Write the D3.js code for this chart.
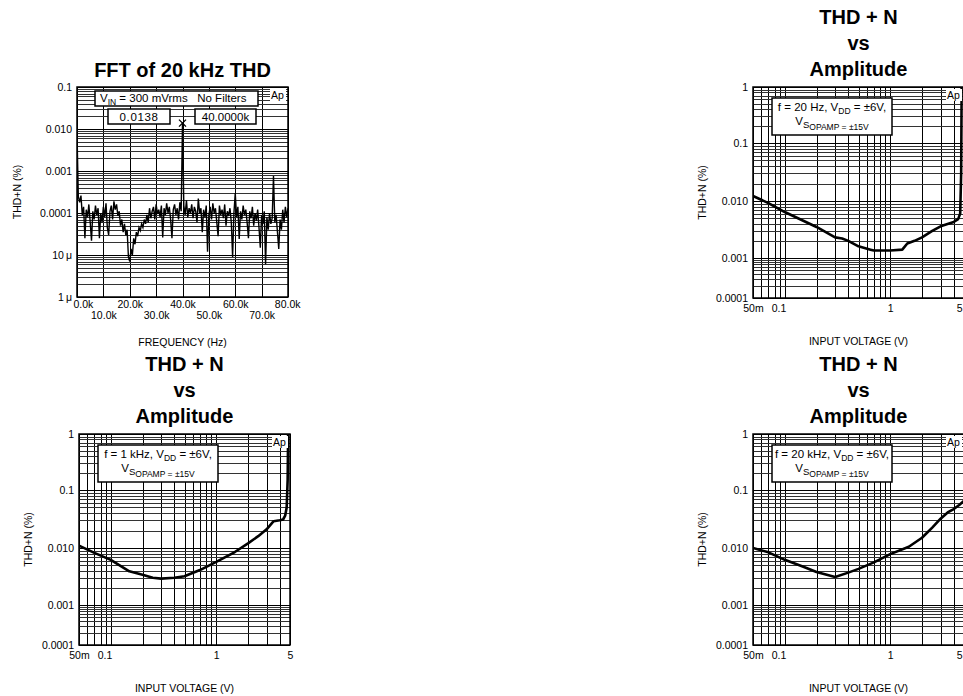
<!DOCTYPE html>
<html lang="en">
<head>
<meta charset="UTF-8">
<title>FFT and THD+N vs Amplitude</title>
<script src="https://cdn.jsdelivr.net/npm/d3@7/dist/d3.min.js"></script>
<style>
  body { margin: 0; background: #fff; }
  svg { display: block; }
  .title { font-family: "Liberation Sans", Arial, sans-serif; font-weight: bold; font-size: 20px; fill: #000; }
  .lbl { font-family: "Liberation Sans", Arial, sans-serif; font-size: 10.5px; fill: #000; }
  .inset { font-family: "Liberation Sans", Arial, sans-serif; font-size: 11.5px; fill: #000; }
</style>
</head>
<body>
<script>
// ---- FFT of 20 kHz THD (values in micro-percent, one every 0.5 kHz) ----
const fftStepK = 0.5;
const fftMicro = [
  8000, 250, 180, 260, 90, 140, 25, 120, 80, 160,
  60, 22, 110, 70, 150, 90, 130, 25, 100, 60,
  140, 80, 170, 45, 30, 110, 150, 70, 190, 120,
  160, 85, 110, 50, 70, 35, 55, 30, 40, 9,
  7, 14, 10, 25, 18, 35, 28, 45, 38, 55,
  45, 70, 55, 90, 60, 130, 75, 110, 140, 70,
  160, 95, 120, 80, 150, 26, 130, 90, 170, 100,
  140, 70, 25, 120, 160, 90, 130, 70, 180, 110,
  13800, 150, 90, 200, 80, 130, 100, 160, 75, 140,
  110, 60, 220, 100, 130, 35, 120, 80, 150, 12,
  90, 140, 70, 170, 100, 130, 60, 28, 150, 90,
  120, 75, 160, 50, 110, 85, 130, 60, 9, 100,
  300, 80, 140, 24, 110, 70, 150, 90, 120, 60,
  25, 110, 75, 140, 50, 100, 65, 120, 45, 15,
  90, 55, 110, 6, 80, 40, 100, 55, 75, 760,
  60, 90, 35, 14, 70, 40, 120, 60, 140, 80,
  130
];
const fftXTicksRow1 = [0, 20, 40, 60, 80];
const fftXTicksRow2 = [10, 30, 50, 70];
const fftYTicks = [0.1, 0.01, 0.001, 0.0001, 0.00001, 0.000001];
const fftYLabels = ["0.1", "0.010", "0.001", "0.0001", "10\u2009\u03bc", "1\u2009\u03bc"];
const markerFreqK = 40;
const markerValue = 0.0138;

// ---- THD+N vs Amplitude (volts, percent) ----
const volts20Hz = [0.05, 0.07, 0.1, 0.2, 0.3, 0.35, 0.4, 0.5, 0.65, 0.7, 1.0, 1.3, 1.45, 1.7, 2, 2.5, 3, 4, 4.4, 4.6, 4.7, 4.75];
const thd20Hz   = [0.0122, 0.0092, 0.0064, 0.0035, 0.0023, 0.0022, 0.0020, 0.0016, 0.0014, 0.00135, 0.00135, 0.0014, 0.0018, 0.0020, 0.0023, 0.0030, 0.0036, 0.0043, 0.0048, 0.006, 0.03, 1];

const volts1kHz = [0.05, 0.07, 0.1, 0.15, 0.2, 0.25, 0.3, 0.4, 0.5, 0.7, 1, 1.5, 2, 2.5, 3, 3.5, 4, 4.3, 4.5, 4.65, 4.75, 4.8];
const thd1kHz   = [0.011, 0.0082, 0.0062, 0.0039, 0.0034, 0.0030, 0.0029, 0.0030, 0.0032, 0.0041, 0.0057, 0.0085, 0.012, 0.016, 0.021, 0.029, 0.030, 0.031, 0.036, 0.05, 0.15, 1];

const volts20kHz = [0.05, 0.07, 0.1, 0.15, 0.2, 0.25, 0.3, 0.4, 0.5, 0.7, 1, 1.5, 2, 2.5, 3, 3.5, 4, 4.5, 5];
const thd20kHz   = [0.010, 0.0084, 0.0062, 0.0047, 0.0038, 0.0034, 0.0031, 0.0037, 0.0043, 0.0056, 0.0078, 0.0105, 0.0150, 0.0225, 0.032, 0.041, 0.047, 0.055, 0.065];

const thdYTicks = [1, 0.1, 0.01, 0.001, 0.0001];
const thdYLabels = ["1", "0.1", "0.010", "0.001", "0.0001"];
const thdXTicks = [0.05, 0.1, 1, 5];
const thdXLabels = ["50m", "0.1", "1", "5"];

const pageW = 963, pageH = 696;
const svg = d3.select("body").append("svg").attr("width", pageW).attr("height", pageH);
const px = v => Math.round(v) + 0.5;
const isDecade = v => { const l = Math.log10(v); return Math.abs(l - Math.round(l)) < 1e-6; };

function drawGrid(g, xs, ys, x, y, box) {
  const grid = g.append("g").attr("shape-rendering", "crispEdges");
  grid.selectAll("line.gx").data(xs).enter().append("line").attr("class", "gx")
    .attr("x1", d => px(x(d))).attr("x2", d => px(x(d)))
    .attr("y1", box.top).attr("y2", box.bottom)
    .attr("stroke", "#000").attr("stroke-width", 1);
  grid.selectAll("line.gy").data(ys).enter().append("line").attr("class", "gy")
    .attr("x1", box.left).attr("x2", box.right)
    .attr("y1", d => px(y(d))).attr("y2", d => px(y(d)))
    .attr("stroke", d => isDecade(d) ? "#000" : "#333").attr("stroke-width", 1);
}

function frame(g, box) {
  g.append("rect")
    .attr("x", box.left).attr("y", box.top)
    .attr("width", box.right - box.left).attr("height", box.bottom - box.top)
    .attr("fill", "none").attr("stroke", "#000").attr("stroke-width", 1.5);
}

function styleAxis(a) {
  a.select(".domain").remove();
  a.attr("font-family", null).attr("font-size", null);
  a.selectAll("text").attr("class", "lbl").attr("fill", "#000");
}

function apLabel(g, box) {
  g.append("rect").attr("x", box.right - 18).attr("y", box.top + 2)
    .attr("width", 16).attr("height", 12).attr("fill", "#fff");
  g.append("text").attr("class", "lbl").attr("x", box.right - 17).attr("y", box.top + 12).text("Ap");
}

function yTitle(g, box, dx) {
  g.append("text").attr("class", "lbl")
    .attr("transform", `translate(${box.left - dx},${(box.top + box.bottom) / 2}) rotate(-90)`)
    .attr("text-anchor", "middle").attr("dy", "0.35em")
    .text("THD+N (%)");
}

// ================= FFT panel =================
(function () {
  const box = { left: 77, right: 288, top: 87, bottom: 297 };
  const g = svg.append("g");
  const x = d3.scaleLinear().domain([0, 80]).range([box.left, box.right]);
  const y = d3.scaleLog().domain([1e-6, 0.1]).range([box.bottom, box.top]);

  g.append("text").attr("class", "title").attr("x", (box.left + box.right) / 2)
    .attr("y", box.top - 10).attr("text-anchor", "middle").text("FFT of 20 kHz THD");

  drawGrid(g, x.ticks(8), y.ticks(), x, y, box);

  g.append("clipPath").attr("id", "clipFft").append("rect")
    .attr("x", box.left).attr("y", box.top)
    .attr("width", box.right - box.left).attr("height", box.bottom - box.top);

  g.append("path").datum(fftMicro)
    .attr("clip-path", "url(#clipFft)")
    .attr("fill", "none").attr("stroke", "#000").attr("stroke-width", 1.4)
    .attr("d", d3.line().x((d, i) => x(i * fftStepK)).y(d => y(d * 1e-6)));

  frame(g, box);

  // inset boxes
  const ib = g.append("g");
  ib.append("rect").attr("x", box.left + 18).attr("y", box.top + 4).attr("width", 163).attr("height", 15)
    .attr("fill", "#fff").attr("stroke", "#000").attr("stroke-width", 1.5);
  const t1 = ib.append("text").attr("class", "inset").attr("x", box.left + 23).attr("y", box.top + 15)
    .style("white-space", "pre");
  t1.append("tspan").text("V");
  t1.append("tspan").attr("font-size", "8.5px").attr("dy", 3).text("IN");
  t1.append("tspan").attr("dy", -3).text(" = 300 mVrms   No Filters");

  ib.append("rect").attr("x", box.left + 31).attr("y", box.top + 22).attr("width", 62).attr("height", 15)
    .attr("fill", "#fff").attr("stroke", "#000").attr("stroke-width", 1.5);
  ib.append("text").attr("class", "inset").attr("x", box.left + 62).attr("y", box.top + 34)
    .attr("text-anchor", "middle").attr("letter-spacing", "0.6px").text(markerValue.toFixed(4));
  ib.append("rect").attr("x", box.left + 118).attr("y", box.top + 22).attr("width", 61).attr("height", 15)
    .attr("fill", "#fff").attr("stroke", "#000").attr("stroke-width", 1.5);
  ib.append("text").attr("class", "inset").attr("x", box.left + 148.5).attr("y", box.top + 34)
    .attr("text-anchor", "middle").text(markerFreqK.toFixed(4) + "k");

  // cursor marker
  const mx = x(markerFreqK), my = y(markerValue);
  g.append("path").attr("d", `M${mx - 3.5},${my - 3.5}L${mx + 3.5},${my + 3.5}M${mx - 3.5},${my + 3.5}L${mx + 3.5},${my - 3.5}`)
    .attr("stroke", "#000").attr("stroke-width", 1.4);

  apLabel(g, box);

  g.append("g").attr("transform", `translate(${box.left},0)`)
    .call(d3.axisLeft(y).tickValues(fftYTicks).tickFormat((d, i) => fftYLabels[i]).tickSize(0).tickPadding(5))
    .call(styleAxis);

  const row1 = g.append("g").attr("transform", `translate(0,${box.bottom})`)
    .call(d3.axisBottom(x).tickValues(fftXTicksRow1).tickFormat(d => d.toFixed(1) + "k").tickSize(0).tickPadding(4))
    .call(styleAxis);
  row1.selectAll("text").filter(d => d === 0).attr("text-anchor", "start").attr("dx", -4);
  row1.selectAll("text").filter(d => d === 80).attr("text-anchor", "end").attr("dx", 12);
  g.append("g").attr("transform", `translate(0,${box.bottom})`)
    .call(d3.axisBottom(x).tickValues(fftXTicksRow2).tickFormat(d => d.toFixed(1) + "k").tickSize(0).tickPadding(15))
    .call(styleAxis);

  g.append("text").attr("class", "lbl").attr("x", (box.left + box.right) / 2).attr("y", box.bottom + 49)
    .attr("text-anchor", "middle").text("FREQUENCY (Hz)");
  yTitle(g, box, 60);
})();

// ================= THD+N vs Amplitude panels =================
const thdPanels = [
  { left: 753, top: 87, volts: volts20Hz, thd: thd20Hz, freq: "20 Hz" },
  { left: 79, top: 434, volts: volts1kHz, thd: thd1kHz, freq: "1 kHz" },
  { left: 753, top: 434, volts: volts20kHz, thd: thd20kHz, freq: "20 kHz" }
];

thdPanels.forEach((p, k) => {
  const box = { left: p.left, right: p.left + 211, top: p.top, bottom: p.top + 211 };
  const g = svg.append("g");
  const x = d3.scaleLog().domain([0.05, 5]).range([box.left, box.right]);
  const y = d3.scaleLog()
    .domain([0.0001, 0.001, 0.01, 0.1, 1])
    .range([box.bottom, box.top + 171, box.top + 114, box.top + 56, box.top]);

  const cx = (box.left + box.right) / 2;
  ["THD + N", "vs", "Amplitude"].forEach((s, i) => {
    g.append("text").attr("class", "title").attr("x", cx)
      .attr("y", box.top - 63 + i * 26).attr("text-anchor", "middle").text(s);
  });

  drawGrid(g, x.ticks(), y.ticks(), x, y, box);

  g.append("clipPath").attr("id", "clipThd" + k).append("rect")
    .attr("x", box.left).attr("y", box.top)
    .attr("width", box.right - box.left).attr("height", box.bottom - box.top);

  g.append("path").datum(p.volts.map((v, i) => [v, p.thd[i]]))
    .attr("clip-path", `url(#clipThd${k})`)
    .attr("fill", "none").attr("stroke", "#000").attr("stroke-width", 2.6)
    .attr("stroke-linejoin", "round")
    .attr("d", d3.line().x(d => x(d[0])).y(d => y(d[1])));

  frame(g, box);

  // condition box
  const bx = box.left + 19, by = box.top + 11;
  g.append("rect").attr("x", bx).attr("y", by).attr("width", 120).attr("height", 37)
    .attr("fill", "#fff").attr("stroke", "#000").attr("stroke-width", 1.5);
  const l1 = g.append("text").attr("class", "inset").attr("font-size", "11px")
    .attr("x", bx + 60).attr("y", by + 13).attr("text-anchor", "middle");
  l1.append("tspan").text(`f = ${p.freq},  V`);
  l1.append("tspan").attr("font-size", "8.5px").attr("dy", 3).text("DD");
  l1.append("tspan").attr("dy", -3).text(" = \u00b16V,");
  const l2 = g.append("text").attr("class", "inset").attr("font-size", "11px")
    .attr("x", bx + 60).attr("y", by + 27).attr("text-anchor", "middle");
  l2.append("tspan").text("V");
  l2.append("tspan").attr("font-size", "9.5px").attr("dy", 3).text("S");
  l2.append("tspan").attr("font-size", "8.5px").attr("dy", 2).text("OPAMP = \u00b115V");

  apLabel(g, box);

  g.append("g").attr("transform", `translate(${box.left},0)`)
    .call(d3.axisLeft(y).tickValues(thdYTicks).tickFormat((d, i) => thdYLabels[i]).tickSize(0).tickPadding(5))
    .call(styleAxis);

  const xa = g.append("g").attr("transform", `translate(0,${box.bottom})`)
    .call(d3.axisBottom(x).tickValues(thdXTicks).tickFormat((d, i) => thdXLabels[i]).tickSize(0).tickPadding(7))
    .call(styleAxis);
  xa.selectAll("text").filter(d => d === 0.1).attr("text-anchor", "end").attr("dx", 1);
  // keep the last label inside the page when the plot runs past the right edge
  if (box.right + 4 > pageW) {
    xa.selectAll("text").filter(d => d === 5).attr("text-anchor", "end").attr("dx", pageW - 1 - box.right);
  }

  g.append("text").attr("class", "lbl").attr("x", cx).attr("y", box.bottom + 47)
    .attr("text-anchor", "middle").text("INPUT VOLTAGE (V)");
  yTitle(g, box, 51);
});
</script>
</body>
</html>
